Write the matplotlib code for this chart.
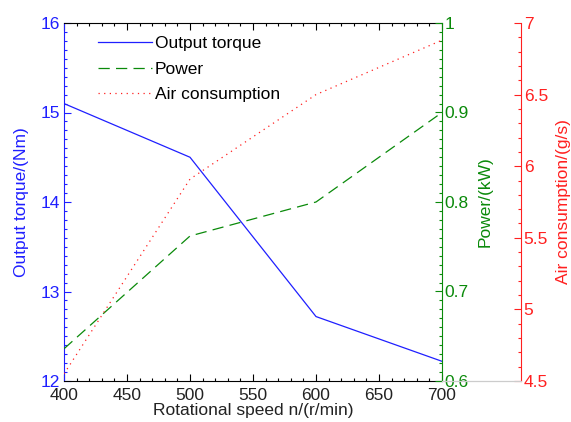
import matplotlib
matplotlib.use("Agg")
import matplotlib.pyplot as plt
from matplotlib.ticker import MultipleLocator, FuncFormatter
from matplotlib.lines import Line2D

speed = [400, 500, 600, 700]
torque = [15.1, 14.5, 12.72, 12.22]
power = [0.636, 0.762, 0.80, 0.90]
air = [4.55, 5.91, 6.50, 6.88]

plt.rcParams['font.family'] = ['Liberation Sans', 'DejaVu Sans']
fs = 12.5

W, H = 571, 422
fig = plt.figure(figsize=(W / 100, H / 100), dpi=100)
L, R, T, B = 64, 442, 23, 381
ax = fig.add_axes([L / W, 1 - B / H, (R - L) / W, (B - T) / H])

blue, green, red = '#1f1fff', '#0a8a0a', '#ff2020'
fmt = FuncFormatter(lambda v, p: '%g' % round(v, 2))

l1, = ax.plot(speed, torque, color=blue, lw=0.9, label='Output torque')
ax.set_xlim(400, 700)
ax.set_ylim(12, 16)
ax.xaxis.set_major_locator(MultipleLocator(50))
ax.xaxis.set_minor_locator(MultipleLocator(10))
ax.yaxis.set_major_locator(MultipleLocator(1))
ax.yaxis.set_minor_locator(MultipleLocator(0.1))
ax.tick_params(axis='both', which='both', direction='in', top=True, right=False,
               labelsize=fs)
ax.tick_params(which='major', length=5, width=0.8)
ax.tick_params(which='minor', length=2.5, width=0.8)
ax.tick_params(axis='y', which='both', colors=blue, pad=3)
ax.tick_params(axis='x', which='both', colors='black', labelcolor='#222222', pad=5)
ax.spines['left'].set_color(blue)
ax.spines['right'].set_visible(False)
ax.set_xlabel('Rotational speed n/(r/min)', fontsize=fs, color='#222222', labelpad=0)
ax.set_ylabel('Output torque/(Nm)', fontsize=fs, color=blue, labelpad=8)

ax2 = ax.twinx()
l2, = ax2.plot(speed, power, color=green, lw=0.9, dashes=(9, 5), label='Power')
ax2.set_ylim(0.6, 1.0)
ax2.yaxis.set_major_locator(MultipleLocator(0.1))
ax2.yaxis.set_minor_locator(MultipleLocator(0.01))
ax2.yaxis.set_major_formatter(fmt)
ax2.tick_params(axis='y', which='both', direction='in', colors=green, labelsize=fs, pad=2)
ax2.tick_params(which='major', length=5, width=0.8)
ax2.tick_params(which='minor', length=2.5, width=0.8)
for s in ['left', 'top', 'bottom']:
    ax2.spines[s].set_visible(False)
ax2.spines['right'].set_color(green)
ax2.set_ylabel('Power/(kW)', fontsize=fs, color=green, labelpad=6)

ax3 = ax.twinx()
l3, = ax3.plot(speed, air, color=red, lw=0.9, ls=(0, (1, 3.5)), label='Air consumption')
ax3.set_ylim(4.5, 7.0)
ax3.spines['right'].set_position(('axes', 1 + (521 - R) / (R - L)))
ax3.yaxis.set_major_locator(MultipleLocator(0.5))
ax3.yaxis.set_minor_locator(MultipleLocator(0.1))
ax3.yaxis.set_major_formatter(fmt)
ax3.tick_params(axis='y', which='both', direction='in', colors=red, labelsize=fs, pad=2)
ax3.tick_params(which='major', length=5, width=0.8)
ax3.tick_params(which='minor', length=2.5, width=0.8)
for s in ['left', 'top', 'bottom']:
    ax3.spines[s].set_visible(False)
ax3.spines['right'].set_color(red)
ax3.set_ylabel('Air consumption/(g/s)', fontsize=fs, color=red, labelpad=6)

fig.add_artist(Line2D([R / W, 521 / W], [1 - B / H, 1 - B / H], color='#cccccc', lw=0.9))

leg = ax.legend(handles=[l1, l2, l3], loc='upper left', bbox_to_anchor=(0.055, 1.0),
                frameon=False, fontsize=fs, handlelength=3.1, handletextpad=0.2,
                labelspacing=0.6, borderaxespad=0.35)

fig.savefig('out.png', dpi=100)
